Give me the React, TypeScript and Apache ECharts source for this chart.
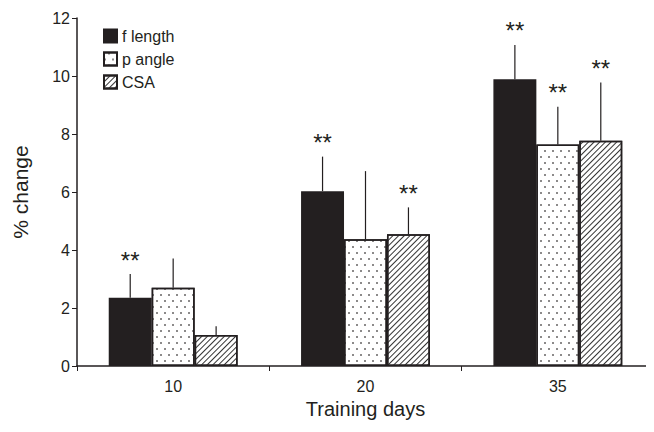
import React, { useEffect, useRef } from "react";
import * as echarts from "echarts";

const categories = ["10", "20", "35"];
const seriesNames = ["f length", "p angle", "CSA"];
const fLength = [2.35, 6.03, 9.89];
const fLengthErr = [0.82, 1.19, 1.18];
const pAngle = [2.7, 4.37, 7.64];
const pAngleErr = [1.01, 2.35, 1.3];
const csa = [1.07, 4.54, 7.77];
const csaErr = [0.3, 0.93, 2.01];
const fLengthSig = [true, true, true];
const pAngleSig = [false, false, true];
const csaSig = [false, true, true];
const yTicks = [0, 2, 4, 6, 8, 10, 12];

const INK = "#231f20";
const FONT = "Liberation Sans";
const CAT_GAP = 0.33;

const values = [fLength, pAngle, csa];
const errs = [fLengthErr, pAngleErr, csaErr];
const sigs = [fLengthSig, pAngleSig, csaSig];

const decals: any[] = [
  null,
  {
    symbol: "rect",
    symbolSize: 0.7,
    dashArrayX: [[2, 6], [0, 4, 2, 2]],
    dashArrayY: [2, 4],
    color: INK,
    rotation: 0,
  },
  {
    symbol: "rect",
    symbolSize: 1,
    dashArrayX: [1, 0],
    dashArrayY: [1, 3],
    rotation: -Math.PI / 4,
    color: "#333",
  },
];

export default function App() {
  const ref = useRef<HTMLDivElement>(null);
  useEffect(() => {
    if (!ref.current) return;
    const chart = echarts.init(ref.current, null, { renderer: "svg" });
    const barSeries = seriesNames.map((name, i) => ({
      name,
      type: "bar",
      data: values[i],
      barGap: "0%",
      barCategoryGap: CAT_GAP * 100 + "%",
      itemStyle: {
        color: i === 0 ? INK : "#ffffff",
        borderColor: INK,
        borderWidth: 1.5,
        decal: decals[i] || undefined,
      },
      z: 2,
    }));
    const errSeries = seriesNames.map((name, i) => ({
      name: name + " err",
      type: "custom",
      z: 3,
      data: values[i].map((v, j) => [j, v, v + errs[i][j], sigs[i][j] ? 1 : 0]),
      renderItem: (params: any, api: any) => {
        const cat = api.value(0);
        const base = api.coord([cat, api.value(1)]);
        const top = api.coord([cat, api.value(2)]);
        const band = api.size([1, 0])[0];
        const bw = (band * (1 - CAT_GAP)) / 3;
        const x = base[0] + (i - 1) * bw;
        const children: any[] = [
          {
            type: "line",
            shape: { x1: x, y1: base[1], x2: x, y2: top[1] },
            style: { stroke: INK, lineWidth: 1.2 },
          },
        ];
        if (api.value(3) === 1) {
          children.push({
            type: "text",
            x: x,
            y: top[1] - 2,
            style: {
              text: "**",
              fontSize: 24,
              fontFamily: FONT,
              fill: INK,
              align: "center",
              verticalAlign: "bottom",
            },
          });
        }
        return { type: "group", children };
      },
    }));
    chart.setOption({
      animation: false,
      grid: { left: 77, top: 18, width: 579, height: 348 },
      legend: {
        data: seriesNames.map((n) => ({ name: n, icon: "rect" })),
        orient: "vertical",
        left: 98,
        top: 23,
        itemWidth: 13,
        itemHeight: 13,
        itemGap: 7,
        textStyle: { fontSize: 16, fontFamily: FONT, color: INK },
      },
      xAxis: {
        type: "category",
        data: categories,
        name: "Training days",
        nameLocation: "middle",
        nameGap: 33,
        nameTextStyle: { fontSize: 20, fontFamily: FONT, color: INK },
        axisLine: { lineStyle: { color: INK, width: 1.5 } },
        axisTick: { show: true, length: 5, lineStyle: { color: INK } },
        axisLabel: { fontSize: 16, fontFamily: FONT, color: INK, margin: 12 },
      },
      yAxis: {
        type: "value",
        min: yTicks[0],
        max: yTicks[yTicks.length - 1],
        interval: 2,
        name: "% change",
        nameLocation: "middle",
        nameGap: 46,
        nameTextStyle: { fontSize: 21, fontFamily: FONT, color: INK },
        axisLine: { show: true, lineStyle: { color: INK, width: 1.5 } },
        axisTick: { show: true, length: 5, lineStyle: { color: INK } },
        splitLine: { show: false },
        axisLabel: { fontSize: 16, fontFamily: FONT, color: INK, margin: 7 },
      },
      series: [...barSeries, ...errSeries],
    });
    return () => chart.dispose();
  }, []);
  return <div ref={ref} style={{ width: 654, height: 432, margin: -8 }} />;
}
